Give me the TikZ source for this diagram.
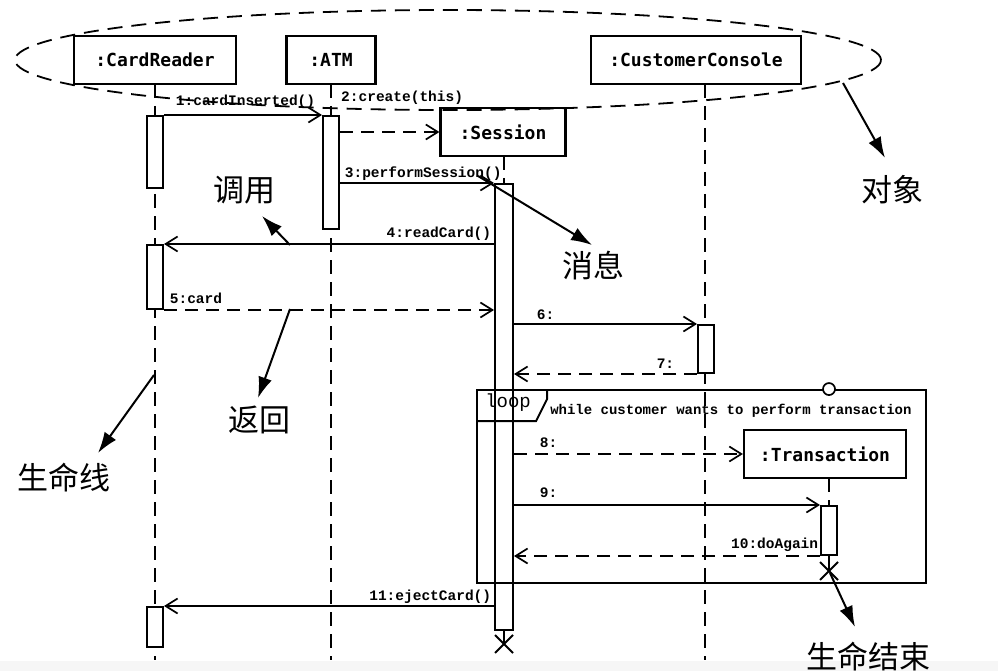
\documentclass[tikz,border=0pt]{standalone}
\usepackage{fontspec}
\setmainfont{Liberation Serif}
\newfontfamily\boxfont{DejaVu Sans Mono}
\newfontfamily\msgfont{Liberation Mono}
\newfontfamily\cjk{Noto Sans CJK SC}
\usetikzlibrary{arrows.meta,calc}
\begin{document}
\begin{tikzpicture}[x=1pt,y=-1pt,
  objbox/.style={draw, line width=2.2pt, fill=white, minimum height=48pt, inner sep=0pt,
    font=\boxfont\bfseries\fontsize{18}{20}\selectfont},
  actbar/.style={draw, line width=2pt, fill=white, minimum width=16pt, inner sep=0pt},
  life/.style={line width=1.9pt, dash pattern=on 14pt off 8pt},
  callmsg/.style={line width=1.7pt, -{Straight Barb[length=12pt,width=15pt]}},
  retmsg/.style={callmsg, dash pattern=on 13pt off 8pt},
  lbl/.style={font=\msgfont\bfseries\fontsize{14.5}{16}\selectfont, inner sep=0pt},
  guardtxt/.style={font=\msgfont\bfseries\fontsize{14}{16}\selectfont, inner sep=0pt},
  looptxt/.style={font=\msgfont\fontsize{19}{20}\selectfont, inner sep=0pt},
  anno/.style={line width=2pt, -{Latex[length=21pt,width=14pt]}},
  cn/.style={font=\cjk\fontsize{31}{33}\selectfont, inner sep=0pt},
  xmark/.style={line width=1.9pt}
]
\useasboundingbox (0,0) rectangle (998,671);
\fill[gray!7] (0,661) rectangle (998,671);

% object boxes
\node[objbox, minimum width=162pt] (cr) at (155,60) {:CardReader};
\node[objbox, minimum width=89pt] (atm) at (331,60) {:ATM};
\node[objbox, minimum width=210pt] (cc) at (696,60) {:CustomerConsole};
\node[objbox, minimum width=125pt] (ses) at (503,132) {:Session};
\node[objbox, minimum width=162pt] (tr) at (825,454) {:Transaction};

% lifeline coordinates
\coordinate (crtop) at (155,84);  \coordinate (crend) at (155,660);
\coordinate (atmtop) at (331,84); \coordinate (atmend) at (331,660);
\coordinate (cctop) at (705,84);  \coordinate (ccend) at (705,660);
\coordinate (sestop) at (504,156);
\coordinate (trtop) at (829,478);
\coordinate (sx) at (504,644);
\coordinate (tx) at (829,571);

\draw[life] (crtop) -- (crend);
\draw[life] (atmtop) -- (atmend);
\draw[life] (cctop) -- (ccend);

% activation bars
\node[actbar, minimum height=72pt] (cr1) at (155,152) {};
\node[actbar, minimum height=64pt] (cr2) at (155,277) {};
\node[actbar, minimum height=40pt] (cr3) at (155,627) {};
\node[actbar, minimum height=113pt] (atm1) at (331,172.5) {};
\node[actbar, minimum width=18pt, minimum height=446pt] (s1) at (504,407) {};
\node[actbar, minimum height=48pt] (cc1) at (706,349) {};
\node[actbar, minimum height=49pt] (ta) at (829,530.5) {};

\draw[life] (sestop) -- (s1.north);
\draw[life] (trtop) -- (ta.north);
\draw[life] (s1.south) -- (sx);
\draw[life] (ta.south) -- (tx);

% destruction marks
\draw[xmark] ($(sx)+(-9,-9)$) -- ($(sx)+(9,9)$) ($(sx)+(-9,9)$) -- ($(sx)+(9,-9)$);
\draw[xmark] ($(tx)+(-9,-9)$) -- ($(tx)+(9,9)$) ($(tx)+(-9,9)$) -- ($(tx)+(9,-9)$);

% messages
\draw[callmsg] (cr1.north east) -- (atm1.north west)
  node[lbl, pos=1, anchor=base east, xshift=-6pt, yshift=9pt] {1:cardInserted()};
\draw[retmsg] (atm1.east |- ses.west) -- (ses.west);
\node[lbl, anchor=base west] (l2) at ($(atm1.north east)+(1,-13)$) {2:create(this)};
\draw[callmsg] (atm1.east |- s1.north) -- (s1.north west)
  node[lbl, pos=0, anchor=base west, xshift=4pt, yshift=5pt] {3:performSession()};
\draw[callmsg] (s1.west |- cr2.north) -- (cr2.north east)
  node[lbl, pos=0, anchor=base east, xshift=-2pt, yshift=7pt] {4:readCard()};
\draw[retmsg] (cr2.south east) -- (s1.west |- cr2.south)
  node[lbl, pos=0, anchor=base west, xshift=5pt, yshift=7pt] {5:card};
\draw[callmsg] (s1.east |- cc1.north) -- (cc1.north west)
  node[lbl, pos=0, anchor=base west, xshift=22pt, yshift=5pt] {6:};
\draw[retmsg] (cc1.south west) -- (s1.east |- cc1.south)
  node[lbl, pos=0, anchor=base east, xshift=-22pt, yshift=6pt] {7:};
\draw[retmsg] (s1.east |- tr.west) -- (tr.west)
  node[lbl, pos=0, anchor=base west, xshift=25pt, yshift=7pt] {8:};
\draw[callmsg] (s1.east |- ta.north) -- (ta.north west)
  node[lbl, pos=0, anchor=base west, xshift=25pt, yshift=8pt] {9:};
\draw[retmsg] (ta.south west) -- (s1.east |- ta.south)
  node[lbl, pos=0, anchor=base east, xshift=-1pt, yshift=8pt] {10:doAgain};
\draw[callmsg] (s1.west |- cr3.north) -- (cr3.north east)
  node[lbl, pos=0, anchor=base east, xshift=-2pt, yshift=6pt] {11:ejectCard()};

% loop frame
\node[draw, line width=1.9pt, minimum width=449pt, minimum height=193pt, inner sep=0pt] (loopf) at (701.5,486.5) {};
\draw[line width=1.9pt] (loopf.north west) ++(0,32) -- ++(60,0) -- ++(11,-22) -- ++(0,-10);
\node[looptxt, anchor=base west] (looplbl) at ($(loopf.north west)+(9,18)$) {loop};
\node[guardtxt, anchor=base west] (guard) at ($(loopf.north west)+(74,25)$) {while customer wants to perform transaction};
\node[circle, draw, line width=1.7pt, fill=white, minimum size=12pt, inner sep=0pt] (lc) at (loopf.north -| tx) {};

% objects ellipse
\draw[line width=1.8pt, dash pattern=on 15pt off 9pt] (448,60) ellipse [x radius=433pt, y radius=50pt];

% annotations
\node[cn] (tobj) at (892,190) {对象};
\node[cn] (tmsg) at (593,266) {消息};
\node[cn] (tcall) at (244,190) {调用};
\node[cn] (tret) at (259,420) {返回};
\node[cn] (tlife) at (64,478) {生命线};
\node[cn] (tend) at (868,657) {生命结束};

\coordinate (objfrom) at (843,83);  \coordinate (objtip) at (885,158);
\coordinate (msgfrom) at (478,176); \coordinate (msgtip) at (592,245);
\coordinate (callfrom) at (290,245); \coordinate (calltip) at (262,216);
\coordinate (retfrom) at (290,309); \coordinate (rettip) at (258,398);
\coordinate (lifefrom) at (154,375); \coordinate (lifetip) at (98,453);
\coordinate (endfrom) at (830,573); \coordinate (endtip) at (855,627);

\draw[anno] (objfrom) -- (objtip);
\draw[anno] (msgfrom) -- (msgtip);
\draw[anno] (callfrom) -- (calltip);
\draw[anno] (retfrom) -- (rettip);
\draw[anno] (lifefrom) -- (lifetip);
\draw[anno] (endfrom) -- (endtip);
\end{tikzpicture}
\end{document}
